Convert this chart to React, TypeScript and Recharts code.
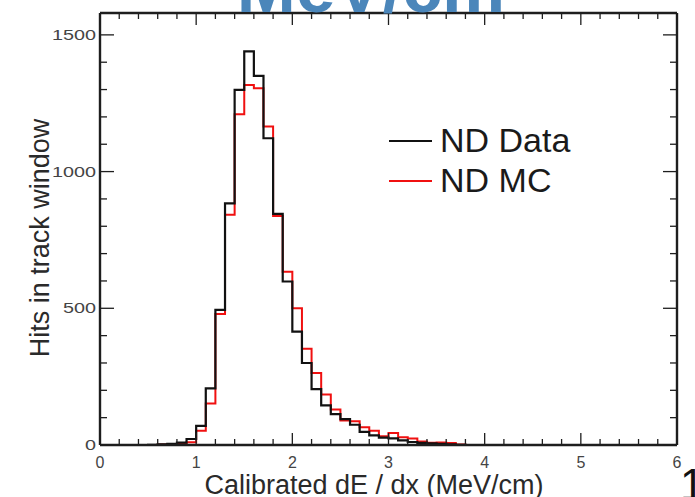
import React from 'react';
import { LineChart, Line, XAxis, YAxis, Legend } from 'recharts';

// Histogram bin edges (MeV/cm), 0.1 wide bins from 0 to 6
const binEdges = [
  0, 0.1, 0.2, 0.3, 0.4, 0.5, 0.6, 0.7, 0.8, 0.9,
  1.0, 1.1, 1.2, 1.3, 1.4, 1.5, 1.6, 1.7, 1.8, 1.9,
  2.0, 2.1, 2.2, 2.3, 2.4, 2.5, 2.6, 2.7, 2.8, 2.9,
  3.0, 3.1, 3.2, 3.3, 3.4, 3.5, 3.6, 3.7, 3.8, 3.9,
  4.0, 4.1, 4.2, 4.3, 4.4, 4.5, 4.6, 4.7, 4.8, 4.9,
  5.0, 5.1, 5.2, 5.3, 5.4, 5.5, 5.6, 5.7, 5.8, 5.9,
  6.0,
];

// Hits per bin, near detector data
const ndData = [
  0, 0, 0, 0, 0, 1, 2, 4, 9, 22,
  70, 207, 494, 884, 1299, 1440, 1350, 1122, 845, 598,
  415, 300, 204, 145, 113, 95, 74, 48, 35, 27,
  24, 17, 11, 8, 6, 4, 2, 1, 0, 0,
  0, 0, 0, 0, 0, 0, 0, 0, 0, 0,
  0, 0, 0, 0, 0, 0, 0, 0, 0, 0,
];

// Hits per bin, near detector Monte Carlo
const ndMC = [
  0, 0, 0, 0, 0, 0, 2, 3, 5, 10,
  52, 152, 479, 842, 1210, 1317, 1305, 1165, 838, 634,
  500, 352, 263, 185, 130, 90, 87, 65, 52, 32,
  44, 28, 24, 13, 8, 9, 7, 2, 0, 0,
  0, 0, 0, 0, 0, 0, 0, 0, 0, 0,
  0, 0, 0, 0, 0, 0, 0, 0, 0, 0,
];

const xMajorTicks = [0, 1, 2, 3, 4, 5, 6];
const xAllTicks = [
  0, 0.2, 0.4, 0.6, 0.8, 1, 1.2, 1.4, 1.6, 1.8, 2, 2.2, 2.4, 2.6, 2.8, 3,
  3.2, 3.4, 3.6, 3.8, 4, 4.2, 4.4, 4.6, 4.8, 5, 5.2, 5.4, 5.6, 5.8, 6,
];
const yMajorTicks = [0, 500, 1000, 1500];
const yAllTicks = [
  0, 100, 200, 300, 400, 500, 600, 700, 800, 900, 1000, 1100, 1200, 1300, 1400, 1500,
];

const seriesNames = ['ND Data', 'ND MC'];

// Each point opens a bin; the last edge repeats the final bin so the step closes at 6
const rows = binEdges.map((x, i) => ({
  x,
  data: ndData[Math.min(i, ndData.length - 1)],
  mc: ndMC[Math.min(i, ndMC.length - 1)],
}));

const FONT = '"Liberation Sans", Arial, Helvetica, sans-serif';
const AXIS = '#1e1e1e';

const BottomTick = (props: any) => {
  const { x, y, payload } = props;
  const major = xMajorTicks.includes(payload.value);
  return (
    <g>
      <line x1={x} x2={x} y1={y} y2={y - (major ? 12 : 6)} stroke={AXIS} strokeWidth={1.3} />
      {major && (
        <text x={x} y={y + 23} textAnchor="middle" fontSize={16} fill="#444" fontFamily={FONT}>
          {payload.value}
        </text>
      )}
    </g>
  );
};

const TopTick = (props: any) => {
  const { x, y, payload } = props;
  const major = xMajorTicks.includes(payload.value);
  return <line x1={x} x2={x} y1={y} y2={y + (major ? 12 : 6)} stroke={AXIS} strokeWidth={1.3} />;
};

const LeftTick = (props: any) => {
  const { x, y, payload } = props;
  const major = yMajorTicks.includes(payload.value);
  const label = String(payload.value);
  return (
    <g>
      <line x1={x} x2={x + (major ? 14 : 7)} y1={y} y2={y} stroke={AXIS} strokeWidth={1.3} />
      {major && (
        <text
          x={x - 4}
          y={y + 5}
          textAnchor="end"
          fontSize={14}
          fill="#444"
          fontFamily={FONT}
          textLength={label.length * 11}
          lengthAdjust="spacingAndGlyphs"
        >
          {label}
        </text>
      )}
    </g>
  );
};

const RightTick = (props: any) => {
  const { x, y, payload } = props;
  const major = yMajorTicks.includes(payload.value);
  return <line x1={x} x2={x - (major ? 14 : 7)} y1={y} y2={y} stroke={AXIS} strokeWidth={1.3} />;
};

const XTitle = (props: any) => {
  const vb = props.viewBox || {};
  return (
    <text
      x={vb.x + 274}
      y={vb.y + 49}
      textAnchor="middle"
      fontSize={27}
      fill="#2a2a2a"
      fontFamily={FONT}
    >
      Calibrated dE / dx (MeV/cm)
    </text>
  );
};

const YTitle = () => {
  const cx = 49;
  const cy = 238;
  return (
    <text
      x={cx}
      y={cy}
      transform={`rotate(-90 ${cx} ${cy})`}
      textAnchor="middle"
      fontSize={27}
      fill="#2a2a2a"
      fontFamily={FONT}
    >
      Hits in track window
    </text>
  );
};

const LegendBox = (props: any) => {
  const payload: any[] = props.payload || [];
  const entries = seriesNames.map((n) => payload.find((p) => p.value === n)).filter(Boolean);
  return (
    <svg width={200} height={90} style={{ overflow: 'visible' }}>
      {entries.map((e: any, i: number) => (
        <g key={e.value} transform={`translate(0, ${i * 40})`}>
          <line x1={4} x2={47} y1={26} y2={26} stroke={e.color} strokeWidth={2.2} />
          <text x={55} y={37} fontSize={34} fill="#1a1a1a" fontFamily={FONT}>
            {e.value}
          </text>
        </g>
      ))}
    </svg>
  );
};

export default function App() {
  return (
    <div style={{ position: 'absolute', left: 0, top: 0, width: 695, height: 497, background: '#fff', overflow: 'hidden' }}>
      <LineChart
        width={695}
        height={497}
        data={rows}
        margin={{ top: 0, right: 0, bottom: 0, left: 0 }}
      >
        <XAxis
          xAxisId="bottom"
          dataKey="x"
          type="number"
          domain={[0, 6]}
          ticks={xAllTicks}
          interval={0}
          height={52}
          tickSize={0}
          tickMargin={0}
          tickLine={false}
          axisLine={{ stroke: AXIS, strokeWidth: 2.4 }}
          tick={<BottomTick />}
          label={<XTitle />}
        />
        <XAxis
          xAxisId="top"
          orientation="top"
          dataKey="x"
          type="number"
          domain={[0, 6]}
          ticks={xAllTicks}
          interval={0}
          height={13}
          tickSize={0}
          tickMargin={0}
          tickLine={false}
          axisLine={{ stroke: AXIS, strokeWidth: 2.4 }}
          tick={<TopTick />}
        />
        <YAxis
          yAxisId="left"
          type="number"
          domain={[0, 1580]}
          ticks={yAllTicks}
          interval={0}
          width={100}
          tickSize={0}
          tickMargin={0}
          tickLine={false}
          allowDataOverflow
          axisLine={{ stroke: AXIS, strokeWidth: 2.4 }}
          tick={<LeftTick />}
          label={<YTitle />}
        />
        <YAxis
          yAxisId="right"
          orientation="right"
          type="number"
          domain={[0, 1580]}
          ticks={yAllTicks}
          interval={0}
          width={18}
          tickSize={0}
          tickMargin={0}
          tickLine={false}
          allowDataOverflow
          axisLine={{ stroke: AXIS, strokeWidth: 2.4 }}
          tick={<RightTick />}
        />
        <Line
          xAxisId="bottom"
          yAxisId="left"
          type="stepAfter"
          dataKey="mc"
          name="ND MC"
          stroke="#f01010"
          strokeWidth={2}
          dot={false}
          activeDot={false}
          isAnimationActive={false}
        />
        <Line
          xAxisId="bottom"
          yAxisId="left"
          type="stepAfter"
          dataKey="data"
          name="ND Data"
          stroke="#111111"
          strokeWidth={2.2}
          dot={false}
          activeDot={false}
          isAnimationActive={false}
        />
        <Legend
          layout="vertical"
          align="center"
          verticalAlign="middle"
          content={<LegendBox />}
          wrapperStyle={{ position: 'absolute', left: 385, top: 115, width: 200, height: 90 }}
        />
      </LineChart>
      <svg
        width={695}
        height={497}
        style={{ position: 'absolute', left: 0, top: 0, pointerEvents: 'none' }}
      >
        <text
          x={371}
          y={12}
          textAnchor="middle"
          fontSize={71}
          fontWeight="bold"
          fill="#4b86ba"
          fontFamily={FONT}
        >
          MeV/cm
        </text>
        <text x={680} y={500} fontSize={44} fill="#111" fontFamily={FONT}>
          1
        </text>
      </svg>
    </div>
  );
}
